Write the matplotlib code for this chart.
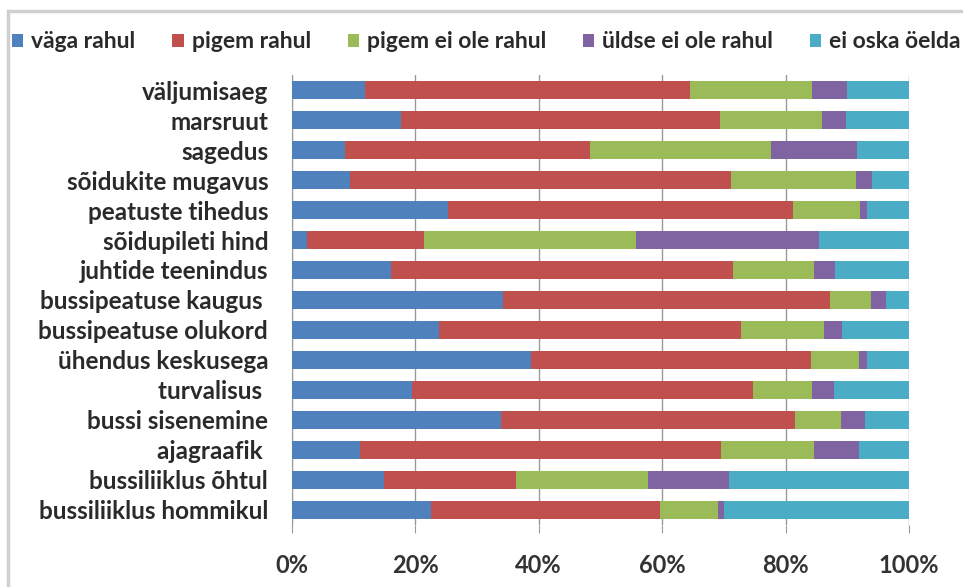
import numpy as np
import matplotlib
matplotlib.use("Agg")
from matplotlib import pyplot as plt
from matplotlib.patches import Rectangle

# categories, top to bottom as in the picture
categories = ["väljumisaeg", "marsruut", "sagedus", "sõidukite mugavus",
              "peatuste tihedus", "sõidupileti hind", "juhtide teenindus",
              "bussipeatuse kaugus ", "bussipeatuse olukord", "ühendus keskusega",
              "turvalisus ", "bussi sisenemine", "ajagraafik ", "bussiliiklus õhtul",
              "bussiliiklus hommikul"]

series_names = ["väga rahul", "pigem rahul", "pigem ei ole rahul",
                "üldse ei ole rahul", "ei oska öelda"]

vaga_rahul = [11.8, 17.7, 8.6, 9.5, 25.3, 2.4, 16.0, 34.2, 23.8, 38.7, 19.5, 33.9, 11.0, 15.0, 22.6]
pigem_rahul = [52.7, 51.7, 39.7, 61.7, 55.9, 19.0, 55.4, 53.0, 49.0, 45.4, 55.2, 47.7, 58.6, 21.3, 37.1]
pigem_ei = [19.8, 16.5, 29.3, 20.2, 10.9, 34.4, 13.2, 6.7, 13.4, 7.8, 9.6, 7.3, 15.0, 21.4, 9.4]
uldse_ei = [5.6, 3.9, 14.0, 2.6, 1.1, 29.6, 3.4, 2.4, 2.9, 1.3, 3.5, 4.0, 7.3, 13.1, 0.9]
ei_oska = [10.1, 10.2, 8.4, 6.0, 6.8, 14.6, 12.0, 3.7, 10.9, 6.8, 12.2, 7.1, 8.1, 29.2, 30.0]

colors = ["#4F81BD", "#C0504D", "#9BBB59", "#8064A2", "#4BACC6"]

xticks = [0, 20, 40, 60, 80, 100]
xticklabels = ["0%", "20%", "40%", "60%", "80%", "100%"]

plt.rcParams['font.family'] = ['Lato', 'DejaVu Sans']

fig = plt.figure(figsize=(9.63, 5.87), dpi=100)
ax = fig.add_axes([0.303, 0.106, 0.641, 0.766])

# outer chart frame (cut off at right and bottom like the screenshot)
fig.patches.append(Rectangle((8 / 963, -0.05), 1.1, 1 - 11 / 587 + 0.05,
                             transform=fig.transFigure, fill=False,
                             edgecolor="#D0D0D0", linewidth=2.5))

data = np.array([vaga_rahul, pigem_rahul, pigem_ei, uldse_ei, ei_oska])
data = data / data.sum(axis=0) * 100
y = np.arange(len(categories))
left = np.zeros(len(categories))
for vals, name, c in zip(data, series_names, colors):
    ax.barh(y, vals, left=left, height=0.6, color=c, label=name, zorder=3)
    left = left + vals

ax.set_ylim(len(categories) - 0.5, -0.5)
ax.set_xlim(0, 100)
ax.set_yticks(y)
ax.set_yticklabels(categories, fontsize=17.5, fontweight="bold", color="#2a2a2a")
ax.set_xticks(xticks)
ax.set_xticklabels(xticklabels, fontsize=17, fontweight="bold", color="#333333")
ax.tick_params(axis="y", length=0, pad=17)
ax.tick_params(axis="x", length=6, color="#999999", pad=15, direction="out")
ax.grid(axis="x", color="#999999", linewidth=1, zorder=0)
for s in ["top", "right", "bottom"]:
    ax.spines[s].set_visible(False)
ax.spines["left"].set_color("#999999")

ax.legend(loc="center left", bbox_to_anchor=(12 / 963, 1 - 42 / 587),
          bbox_transform=fig.transFigure, ncol=5, frameon=False,
          prop={"size": 16.5, "weight": "bold"}, handlelength=0.5,
          handleheight=0.5, handletextpad=0.35, columnspacing=1.6,
          borderaxespad=0, borderpad=0, labelcolor="#2a2a2a")

plt.savefig("out.png", dpi=100)
